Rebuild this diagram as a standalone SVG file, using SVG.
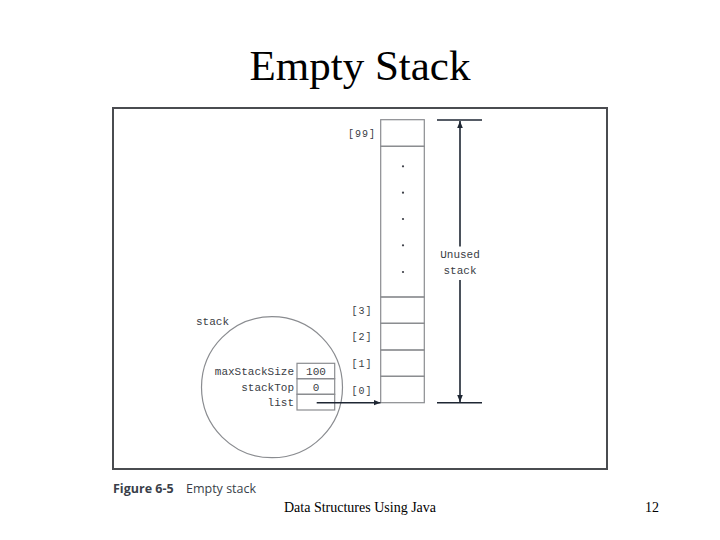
<svg xmlns="http://www.w3.org/2000/svg" width="720" height="540" viewBox="0 0 720 540">
<style>
.mono{font-family:"Liberation Mono","DejaVu Sans Mono",monospace;font-size:11px;fill:#3a3d45}
.idx{font-family:"Liberation Mono","DejaVu Sans Mono",monospace;font-size:10px;fill:#3a3d45;letter-spacing:1px}
.cell{fill:none;stroke:#8a8c90;stroke-width:1.2}
.dark{stroke:#1e2633;stroke-width:1.6;fill:none}
.dot{fill:#3a3d45}
</style>
<defs>
<marker id="ah" viewBox="0 0 10 10" refX="10" refY="5" markerWidth="7" markerHeight="7" orient="auto" markerUnits="userSpaceOnUse">
<path d="M0,1 L10,5 L0,9 Z" fill="#1e2633"/>
</marker>
</defs>
<rect width="720" height="540" fill="#ffffff"/>
<text x="360" y="80" text-anchor="middle" font-family="Liberation Serif,serif" font-size="43" fill="#000">Empty Stack</text>
<rect id="frame" x="113" y="108" width="494" height="361" fill="#ffffff" stroke="#4a4c50" stroke-width="2"/>

<g id="array">
<rect class="cell" x="380.7" y="119.7" width="43.6" height="26.6"/>
<rect class="cell" x="380.7" y="146.3" width="43.6" height="150.7"/>
<rect class="cell" x="380.7" y="297" width="43.6" height="26.3"/>
<rect class="cell" x="380.7" y="323.3" width="43.6" height="26.7"/>
<rect class="cell" x="380.7" y="350" width="43.6" height="26.3"/>
<rect class="cell" x="380.7" y="376.3" width="43.6" height="26.4"/>
<circle class="dot" cx="403" cy="166.3" r="1.1"/>
<circle class="dot" cx="403" cy="192.7" r="1.1"/>
<circle class="dot" cx="403" cy="219" r="1.1"/>
<circle class="dot" cx="403" cy="245.3" r="1.1"/>
<circle class="dot" cx="403" cy="272" r="1.1"/>
<text class="idx" x="362" y="137" text-anchor="middle">[99]</text>
<text class="idx" x="362" y="314" text-anchor="middle">[3]</text>
<text class="idx" x="362" y="340" text-anchor="middle">[2]</text>
<text class="idx" x="362" y="367" text-anchor="middle">[1]</text>
<text class="idx" x="362" y="394" text-anchor="middle">[0]</text>
</g>

<g id="unused">
<line class="dark" x1="437" y1="120" x2="482" y2="120"/>
<line class="dark" x1="437" y1="402.7" x2="482" y2="402.7"/>
<text class="mono" x="460" y="258" text-anchor="middle">Unused</text>
<text class="mono" x="460" y="273.5" text-anchor="middle">stack</text>
</g>

<g id="stack">
<circle cx="272" cy="387.2" r="70.5" fill="none" stroke="#8a8c90" stroke-width="1.2"/>
<text class="mono" x="196" y="325">stack</text>
<rect class="cell" x="297" y="363.3" width="37.7" height="15.4"/>
<rect class="cell" x="297" y="378.7" width="37.7" height="15.6"/>
<rect class="cell" x="297" y="394.3" width="37.7" height="15.7"/>
<text class="mono" x="294" y="375" text-anchor="end">maxStackSize</text>
<text class="mono" x="294" y="390.5" text-anchor="end">stackTop</text>
<text class="mono" x="294" y="406" text-anchor="end">list</text>
<text class="mono" x="316" y="375" text-anchor="middle">100</text>
<text class="mono" x="316" y="390.5" text-anchor="middle">0</text>
</g>

<g id="connectors">
<line class="dark" x1="460" y1="246.5" x2="460" y2="121" marker-end="url(#ah)"/>
<line class="dark" x1="460" y1="280" x2="460" y2="402" marker-end="url(#ah)"/>
<line class="dark" x1="316.7" y1="402.7" x2="380.5" y2="402.7" marker-end="url(#ah)"/>
</g>

<text x="113" y="493" font-family="Open Sans,Noto Sans,sans-serif" font-size="12.5" font-weight="bold" fill="#3a3f4a">Figure 6-5</text>
<text x="186" y="493" font-family="Open Sans,Noto Sans,sans-serif" font-size="12.5" fill="#3a3f4a">Empty stack</text>
<text x="360" y="512" text-anchor="middle" font-family="Liberation Serif,serif" font-size="14" fill="#000">Data Structures Using Java</text>
<text x="659" y="512" text-anchor="end" font-family="Liberation Serif,serif" font-size="14" fill="#000">12</text>
</svg>
